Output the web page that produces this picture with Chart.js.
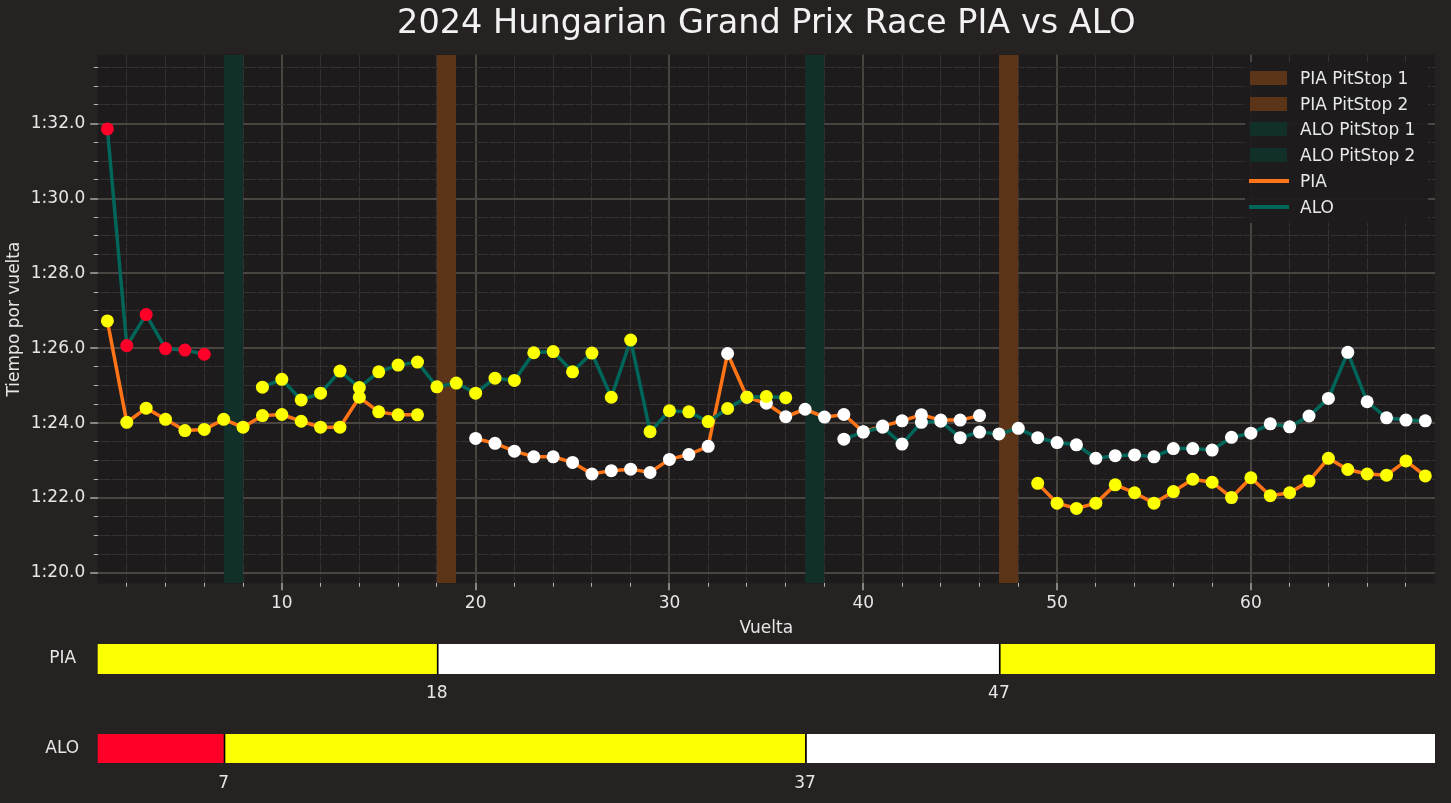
<!DOCTYPE html>
<html>
<head>
<meta charset="utf-8">
<title>2024 Hungarian Grand Prix Race PIA vs ALO</title>
<script src="https://cdn.jsdelivr.net/npm/chart.js@4.4.1/dist/chart.umd.min.js"></script>
<style>
    html, body { margin: 0; padding: 0; width: 1451px; height: 803px; overflow: hidden; background: #262221; font-family: 'DejaVu Sans', sans-serif; }
    canvas { position: absolute; left: 0; }
    #main { top: 0; }
    #pia-stints { top: 634px; }
    #alo-stints { top: 724px; }
    #legend { position: absolute; left: 1245px; top: 62px; width: 183px; height: 161px; background: rgba(29, 27, 28, 0.92); border-radius: 4px; }
    .legend-row { position: absolute; left: 0; width: 183px; height: 20px; }
    .legend-row .patch { position: absolute; left: 5px; top: 3px; width: 37px; height: 14px; }
    .legend-row .stroke { position: absolute; left: 4px; top: 8px; width: 40px; height: 4px; }
    .legend-row span { position: absolute; left: 55px; top: 0; line-height: 20px; font-size: 17px; color: #e8e8e8; white-space: nowrap; }
</style>
</head>
<body>
<canvas id="main" width="1451" height="645"></canvas>
<canvas id="pia-stints" width="1451" height="70"></canvas>
<canvas id="alo-stints" width="1451" height="69"></canvas>
<div id="legend"></div>
<script>
// ===== Data =====
const LAPS = Array.from({ length: 69 }, (_, i) => i + 1);

// lap times in seconds, null = pit in/out lap
const PIA_TIMES = [
    86.73, 84.02, 84.40, 84.10, 83.80, 83.83, 84.10, 83.89, 84.20, 84.23,
    84.05, 83.89, 83.89, 84.69, 84.30, 84.22, 84.22, null, null, 83.59,
    83.46, 83.25, 83.10, 83.10, 82.95, 82.64, 82.73, 82.77, 82.68, 83.03,
    83.16, 83.38, 85.86, 84.69, 84.53, 84.17, 84.37, 84.16, 84.23, 83.77,
    83.92, 84.06, 84.22, 84.08, 84.08, 84.20, null, null, 82.39, 81.86,
    81.72, 81.86, 82.35, 82.14, 81.86, 82.17, 82.50, 82.42, 82.01, 82.54,
    82.06, 82.14, 82.45, 83.06, 82.76, 82.64, 82.61, 82.99, 82.59
];
const ALO_TIMES = [
    91.86, 86.07, 86.90, 85.99, 85.95, 85.84, null, null, 84.96, 85.17,
    84.62, 84.80, 85.39, 84.95, 85.37, 85.55, 85.63, 84.97, 85.07, 84.80,
    85.20, 85.14, 85.88, 85.91, 85.37, 85.87, 84.69, 86.22, 83.77, 84.33,
    84.30, 84.04, 84.39, 84.69, 84.71, 84.68, null, null, 83.57, 83.76,
    83.89, 83.44, 84.02, 84.05, 83.61, 83.76, 83.71, 83.86, 83.61, 83.48,
    83.42, 83.06, 83.13, 83.15, 83.10, 83.32, 83.32, 83.28, 83.62, 83.73,
    83.98, 83.90, 84.19, 84.66, 85.89, 84.57, 84.14, 84.08, 84.06
];

const PIA_PITS = [18, 47];
const ALO_PITS = [7, 37];
const PIA_STINTS = ['MEDIUM', 'HARD', 'MEDIUM'];
const ALO_STINTS = ['SOFT', 'MEDIUM', 'HARD'];
const TOTAL_LAPS = 70;

const X_TICKS = [10, 20, 30, 40, 50, 60];
const Y_TICKS = [80, 82, 84, 86, 88, 90, 92];

const X_MIN = 0.5, X_MAX = 69.5;
const Y_MIN = 79.72, Y_MAX = 93.84;

const COMPOUND_COLORS = { SOFT: '#ff0028', MEDIUM: '#fbff00', HARD: '#ffffff' };
const PIA_COLOR = '#ff7417';
const ALO_COLOR = '#00665a';
const PIA_PIT_COLOR = '#5c3418';
const ALO_PIT_COLOR = '#12302a';

const TEXT = '#e6e6e6';
const AXIS_WIDTH = 97.7;

Chart.defaults.font.family = "'DejaVu Sans', sans-serif";
Chart.defaults.font.size = 17;
Chart.defaults.color = TEXT;

// ===== Helpers =====
function fmtLap(v) {
    const m = Math.floor(v / 60);
    return m + ':' + (v - m * 60).toFixed(1).padStart(4, '0');
}

function stintIndex(lap, pits) {
    return pits.filter(p => lap > p).length;
}

function minorTicks(min, max, step, majors) {
    const out = [];
    for (let v = Math.ceil(min / step) * step; v <= max; v += step) {
        if (!majors.includes(v)) out.push({ value: v });
    }
    return out;
}

function pitBand(lap, label, color) {
    return {
        label, order: 3, fill: 'start', backgroundColor: color, borderWidth: 0,
        pointRadius: 0, pointHoverRadius: 0,
        data: [{ x: lap, y: Y_MAX }, { x: lap + 1, y: Y_MAX }]
    };
}

function lapSeries(label, times, pits, stints, color, order) {
    return {
        label, order, fill: false, spanGaps: false, tension: 0,
        borderColor: color, borderWidth: 3.5,
        pointRadius: 6.5, pointHoverRadius: 6.5, pointBorderWidth: 0,
        pointBackgroundColor: LAPS.map(l => COMPOUND_COLORS[stints[stintIndex(l, pits)]]),
        data: times.map((t, i) => ({ x: LAPS[i], y: t }))
    };
}

const plotBackground = {
    id: 'plotBackground',
    beforeDraw(chart) {
        const { ctx, chartArea: a } = chart;
        ctx.save();
        ctx.fillStyle = '#1d1b1c';
        ctx.fillRect(a.left, a.top, a.right - a.left, a.bottom - a.top);
        ctx.restore();
    }
};

// ===== Main lap time chart =====
const mainChart = new Chart(document.getElementById('main'), {
    type: 'line',
    data: {
        datasets: [
            pitBand(PIA_PITS[0], 'PIA PitStop 1', PIA_PIT_COLOR),
            pitBand(PIA_PITS[1], 'PIA PitStop 2', PIA_PIT_COLOR),
            pitBand(ALO_PITS[0], 'ALO PitStop 1', ALO_PIT_COLOR),
            pitBand(ALO_PITS[1], 'ALO PitStop 2', ALO_PIT_COLOR),
            lapSeries('PIA', PIA_TIMES, PIA_PITS, PIA_STINTS, PIA_COLOR, 2),
            lapSeries('ALO', ALO_TIMES, ALO_PITS, ALO_STINTS, ALO_COLOR, 1)
        ]
    },
    options: {
        responsive: false,
        animation: false,
        events: [],
        layout: { padding: { left: 0, right: 16, top: 0, bottom: 1.7 } },
        plugins: {
            legend: { display: false },
            tooltip: { enabled: false },
            title: {
                display: true,
                fullSize: false,
                text: '2024 Hungarian Grand Prix Race PIA vs ALO',
                color: '#f2f2f2',
                font: { size: 33.5, weight: 'normal' },
                padding: { top: 4, bottom: 10.6 }
            }
        },
        scales: {
            x: {
                type: 'linear', axis: 'x', position: 'bottom', weight: 1,
                min: X_MIN, max: X_MAX,
                afterBuildTicks: s => { s.ticks = X_TICKS.map(v => ({ value: v })); },
                afterFit: s => { s.height = 60; },
                grid: { color: '#4b4542', lineWidth: 2, tickColor: '#c8c8c8', tickLength: 7, tickWidth: 1.2 },
                border: { display: false },
                ticks: { color: TEXT, padding: 3, maxRotation: 0, autoSkip: false },
                title: { display: true, text: 'Vuelta', color: TEXT, padding: { top: 0, bottom: 5 } }
            },
            xMinor: {
                type: 'linear', axis: 'x', position: 'bottom', weight: 0,
                min: X_MIN, max: X_MAX,
                afterBuildTicks: s => { s.ticks = minorTicks(2, 68, 2, X_TICKS); },
                afterFit: s => { s.height = 0; },
                grid: { color: '#363131', lineWidth: 1, tickColor: '#b4b4b4', tickLength: 3.5, tickWidth: 1 },
                border: { display: false, dash: [13, 1.5] },
                ticks: { display: false }
            },
            y: {
                type: 'linear', axis: 'y', position: 'left', weight: 1,
                min: Y_MIN, max: Y_MAX,
                afterBuildTicks: s => { s.ticks = Y_TICKS.map(v => ({ value: v })); },
                afterFit: s => { s.width = AXIS_WIDTH; },
                grid: { color: '#4b4542', lineWidth: 2, tickColor: '#c8c8c8', tickLength: 7.5, tickWidth: 1.2 },
                border: { display: false },
                ticks: { color: TEXT, padding: 5, callback: v => fmtLap(v) },
                title: { display: true, text: 'Tiempo por vuelta', color: TEXT, padding: { top: 4, bottom: 0 } }
            },
            yMinor: {
                type: 'linear', axis: 'y', position: 'left', weight: 0,
                min: Y_MIN, max: Y_MAX,
                afterBuildTicks: s => { s.ticks = minorTicks(80, 93.5, 0.5, Y_TICKS); },
                afterFit: s => { s.width = 0; },
                grid: { color: '#363131', lineWidth: 1, tickColor: '#b4b4b4', tickLength: 4, tickWidth: 1 },
                border: { display: false, dash: [13, 1.5] },
                ticks: { display: false }
            }
        }
    },
    plugins: [plotBackground]
});

// legend built from the chart's own datasets
const legendEl = document.getElementById('legend');
mainChart.data.datasets.forEach((ds, i) => {
    const row = document.createElement('div');
    row.className = 'legend-row';
    row.style.top = (6 + i * 25.7) + 'px';
    const sw = document.createElement('div');
    sw.className = ds.fill ? 'patch' : 'stroke';
    sw.style.background = ds.fill ? ds.backgroundColor : ds.borderColor;
    const txt = document.createElement('span');
    txt.textContent = ds.label;
    row.appendChild(sw);
    row.appendChild(txt);
    legendEl.appendChild(row);
});

// ===== Tyre stint bars =====
function stintChart(canvasId, name, pits, stints, labelPad, tickPad) {
    const starts = [0, ...pits];
    const ends = [...pits, TOTAL_LAPS];
    return new Chart(document.getElementById(canvasId), {
        type: 'bar',
        data: {
            labels: [name],
            datasets: stints.map((c, i) => ({
                label: c,
                data: [[starts[i], ends[i]]],
                backgroundColor: COMPOUND_COLORS[c],
                borderColor: '#000000',
                borderWidth: { left: 2, top: 0, right: 0, bottom: 0 },
                borderSkipped: false,
                grouped: false,
                barPercentage: 1,
                categoryPercentage: 1
            }))
        },
        options: {
            indexAxis: 'y',
            responsive: false,
            animation: false,
            events: [],
            layout: { autoPadding: false, padding: { left: 0, right: 16, top: 10, bottom: 4 } },
            plugins: { legend: { display: false }, tooltip: { enabled: false } },
            scales: {
                x: {
                    type: 'linear', min: X_MIN, max: X_MAX,
                    afterBuildTicks: s => { s.ticks = pits.map(v => ({ value: v })); },
                    afterFit: s => { s.height = 26; },
                    grid: { display: false, drawTicks: false },
                    border: { display: false },
                    ticks: { color: TEXT, padding: tickPad, maxRotation: 0, autoSkip: false }
                },
                y: {
                    // the label padding must not push the plot area down
                    afterFit: s => { s.width = AXIS_WIDTH; s.paddingTop = 0; s.paddingBottom = 0; },
                    grid: { display: false, drawTicks: false },
                    border: { display: false },
                    ticks: { color: TEXT, padding: labelPad }
                }
            }
        }
    });
}

stintChart('pia-stints', 'PIA', PIA_PITS, PIA_STINTS, 21.6, 9.5);
stintChart('alo-stints', 'ALO', ALO_PITS, ALO_STINTS, 18.5, 10.1);
</script>
</body>
</html>
